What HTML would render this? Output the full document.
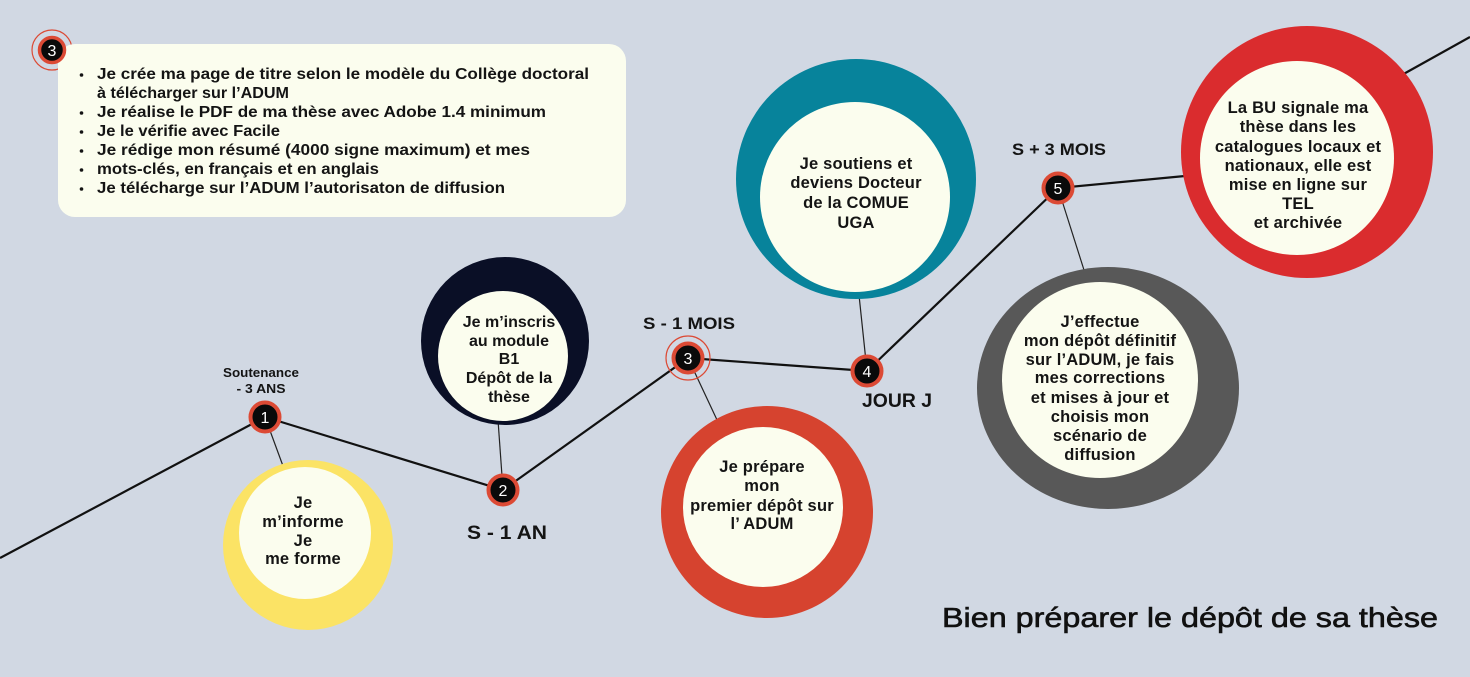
<!DOCTYPE html>
<html>
<head>
<meta charset="utf-8">
<style>
  html,body{margin:0;padding:0;background:#d1d8e3;}
  svg{display:block;}
  .t{font-family:"Liberation Sans",sans-serif;font-weight:bold;fill:#141414;}
  .c{font-size:16.5px;text-anchor:middle;letter-spacing:0.2px;}
  .b{font-size:16px;}
  .n{font-family:"Liberation Sans",sans-serif;font-size:16px;fill:#fff;text-anchor:middle;}
</style>
</head>
<body>
<svg width="1470" height="677" viewBox="0 0 1470 677" xmlns="http://www.w3.org/2000/svg">
  <rect width="1470" height="677" fill="#d1d8e3"/>

  <!-- main timeline -->
  <polyline points="0,558 265,417 503,490 688,358 867,371 1058,188 1185,176" fill="none" stroke="#111" stroke-width="2.2"/>
  <line x1="1400" y1="76" x2="1470" y2="37" stroke="#111" stroke-width="2.2"/>

  <!-- thin connectors -->
  <line x1="265" y1="417" x2="283" y2="466" stroke="#222" stroke-width="1.2"/>
  <line x1="503" y1="490" x2="498" y2="420" stroke="#222" stroke-width="1.2"/>
  <line x1="688" y1="358" x2="718" y2="422" stroke="#222" stroke-width="1.2"/>
  <line x1="867" y1="371" x2="859" y2="295" stroke="#222" stroke-width="1.2"/>
  <line x1="1058" y1="188" x2="1084" y2="270" stroke="#222" stroke-width="1.2"/>

  <!-- yellow circle -->
  <circle cx="308" cy="545" r="85" fill="#fbe365"/>
  <circle cx="305" cy="533" r="66" fill="#fbfdee"/>
  <text class="t c"><tspan x="303" y="508">Je</tspan><tspan x="303" y="527">m’informe</tspan><tspan x="303" y="546">Je</tspan><tspan x="303" y="564">me forme</tspan></text>

  <!-- navy circle -->
  <circle cx="505" cy="341" r="84" fill="#0a0f26"/>
  <circle cx="503" cy="356" r="65" fill="#fbfdee"/>
  <text class="t c" style="font-size:16px;letter-spacing:0"><tspan x="509" y="327">Je m’inscris</tspan><tspan x="509" y="346">au module</tspan><tspan x="509" y="364">B1</tspan><tspan x="509" y="383">Dépôt de la</tspan><tspan x="509" y="402">thèse</tspan></text>

  <!-- red (prépare) circle -->
  <circle cx="767" cy="512" r="106" fill="#d6432f"/>
  <circle cx="763" cy="507" r="80" fill="#fbfdee"/>
  <text class="t c"><tspan x="762" y="472">Je prépare</tspan><tspan x="762" y="491">mon</tspan><tspan x="762" y="511">premier dépôt sur</tspan><tspan x="762" y="529">l’ ADUM</tspan></text>

  <!-- teal circle -->
  <circle cx="856" cy="179" r="120" fill="#07839b"/>
  <circle cx="855" cy="197" r="95" fill="#fbfdee"/>
  <text class="t c"><tspan x="856" y="169">Je soutiens et</tspan><tspan x="856" y="188">deviens Docteur</tspan><tspan x="856" y="208">de la COMUE</tspan><tspan x="856" y="228">UGA</tspan></text>

  <!-- gray circle -->
  <ellipse cx="1108" cy="388" rx="131" ry="121" fill="#585858"/>
  <circle cx="1100" cy="380" r="98" fill="#fbfdee"/>
  <text class="t c"><tspan x="1100" y="327">J’effectue</tspan><tspan x="1100" y="346">mon dépôt définitif</tspan><tspan x="1100" y="365">sur l’ADUM, je fais</tspan><tspan x="1100" y="383">mes corrections</tspan><tspan x="1100" y="403">et mises à jour et</tspan><tspan x="1100" y="422">choisis mon</tspan><tspan x="1100" y="441">scénario de</tspan><tspan x="1100" y="460">diffusion</tspan></text>

  <!-- BU red circle -->
  <circle cx="1307" cy="152" r="126" fill="#da2c2e"/>
  <circle cx="1297" cy="158" r="97" fill="#fbfdee"/>
  <text class="t c"><tspan x="1298" y="113">La BU signale ma</tspan><tspan x="1298" y="132">thèse dans les</tspan><tspan x="1298" y="152">catalogues locaux et</tspan><tspan x="1298" y="171">nationaux, elle est</tspan><tspan x="1298" y="190">mise en ligne sur</tspan><tspan x="1298" y="209">TEL</tspan><tspan x="1298" y="228">et archivée</tspan></text>

  <!-- nodes -->
  <g>
    <circle cx="265" cy="417" r="14.5" fill="#0a0a0a" stroke="#dc4a35" stroke-width="4"/>
    <text class="n" x="265" y="423">1</text>
    <circle cx="503" cy="490" r="14.5" fill="#0a0a0a" stroke="#dc4a35" stroke-width="4"/>
    <text class="n" x="503" y="496">2</text>
    <circle cx="688" cy="358" r="22" fill="none" stroke="#dc4a35" stroke-width="1.2"/>
    <circle cx="688" cy="358" r="14.5" fill="#0a0a0a" stroke="#dc4a35" stroke-width="4"/>
    <text class="n" x="688" y="364">3</text>
    <circle cx="867" cy="371" r="14.5" fill="#0a0a0a" stroke="#dc4a35" stroke-width="4"/>
    <text class="n" x="867" y="377">4</text>
    <circle cx="1058" cy="188" r="14.5" fill="#0a0a0a" stroke="#dc4a35" stroke-width="4"/>
    <text class="n" x="1058" y="194">5</text>
  </g>

  <!-- node labels -->
  <text class="t" x="261" y="377" font-size="13" text-anchor="middle" textLength="76" lengthAdjust="spacingAndGlyphs">Soutenance</text>
  <text class="t" x="261" y="393" font-size="13" text-anchor="middle" textLength="49" lengthAdjust="spacingAndGlyphs">- 3 ANS</text>
  <text class="t" x="507" y="539" font-size="19" text-anchor="middle" textLength="80" lengthAdjust="spacingAndGlyphs">S - 1 AN</text>
  <text class="t" x="689" y="329" font-size="17" text-anchor="middle" textLength="92" lengthAdjust="spacingAndGlyphs">S - 1 MOIS</text>
  <text class="t" x="897" y="407" font-size="19" text-anchor="middle" textLength="70" lengthAdjust="spacingAndGlyphs">JOUR J</text>
  <text class="t" x="1059" y="155" font-size="17" text-anchor="middle" textLength="94" lengthAdjust="spacingAndGlyphs">S + 3 MOIS</text>

  <!-- top-left box -->
  <circle cx="52" cy="50" r="20" fill="none" stroke="#dc4a35" stroke-width="1.2"/>
  <rect x="58" y="44" width="568" height="173" rx="17" ry="17" fill="#fbfdee"/>
  <circle cx="52" cy="50" r="12.5" fill="#0a0a0a" stroke="#dc4a35" stroke-width="3.5"/>
  <text class="n" x="52" y="56">3</text>

  <g fill="#141414">
    <circle cx="81.5" cy="75" r="1.8"/>
    <circle cx="81.5" cy="113" r="1.8"/>
    <circle cx="81.5" cy="132" r="1.8"/>
    <circle cx="81.5" cy="151" r="1.8"/>
    <circle cx="81.5" cy="170" r="1.8"/>
    <circle cx="81.5" cy="189" r="1.8"/>
  </g>
  <text class="t b" x="97" y="79" textLength="492" lengthAdjust="spacingAndGlyphs">Je crée ma page de titre selon le modèle du Collège doctoral</text>
  <text class="t b" x="97" y="98" textLength="192" lengthAdjust="spacingAndGlyphs">à télécharger sur l’ADUM</text>
  <text class="t b" x="97" y="117" textLength="449" lengthAdjust="spacingAndGlyphs">Je réalise le PDF de ma thèse avec Adobe 1.4 minimum</text>
  <text class="t b" x="97" y="136" textLength="183" lengthAdjust="spacingAndGlyphs">Je le vérifie avec Facile</text>
  <text class="t b" x="97" y="155" textLength="433" lengthAdjust="spacingAndGlyphs">Je rédige mon résumé (4000 signe maximum) et mes</text>
  <text class="t b" x="97" y="174" textLength="282" lengthAdjust="spacingAndGlyphs">mots-clés, en français et en anglais</text>
  <text class="t b" x="97" y="193" textLength="408" lengthAdjust="spacingAndGlyphs">Je télécharge sur l’ADUM l’autorisaton de diffusion</text>

  <!-- title -->
  <text x="942" y="627" font-family="Liberation Sans, sans-serif" font-size="28" fill="#111" stroke="#111" stroke-width="0.6" textLength="496" lengthAdjust="spacingAndGlyphs">Bien préparer le dépôt de sa thèse</text>
</svg>
</body>
</html>
